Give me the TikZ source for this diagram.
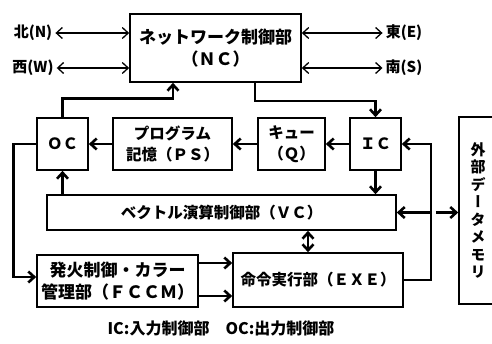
\documentclass[tikz,border=0pt]{standalone}
\usepackage{fontspec}
\newfontfamily\jp{Noto Sans CJK JP}
\newfontfamily\jpv{Noto Sans CJK JP}[RawFeature=+vert]
\usetikzlibrary{arrows.meta, positioning, calc}
\tikzset{
    box/.style={rectangle, draw, line width=1.6pt, inner sep=0pt, align=center, font=\jp\bfseries\fontsize{15.5}{21}\selectfont},
    widebox/.style={box, font=\jp\bfseries\fontsize{17}{22}\selectfont},
    tag/.style={inner sep=3pt, font=\jp\bfseries\fontsize{15}{18}\selectfont},
    arrow/.style={-{Straight Barb[length=6pt, width=11pt]}, line width=2.6pt},
    twoway/.style={{Straight Barb[length=6pt, width=11pt]}-{Straight Barb[length=6pt, width=11pt]}, line width=2.6pt},
    port/.style={{Straight Barb[length=6pt, width=11pt]}-{Straight Barb[length=6pt, width=11pt]}, line width=1.3pt},
    line/.style={line width=2.6pt}
}

\begin{document}
\begin{tikzpicture}[x=1pt, y=-1pt]
    \useasboundingbox (0,0) rectangle (492,343);
    % Network controller (top)
    \node[widebox, minimum width=171pt, minimum height=68pt] (nc) at (215.5,48) {ネットワーク制御部\\（ＮＣ）};
    \node[tag] (north) at (33,33) {北(N)};
    \node[tag] (west) at (33,68) {西(W)};
    \node[tag] (east) at (404,33) {東(E)};
    \node[tag] (south) at (404,68) {南(S)};
    \draw[port] (north.east) -- (north.east -| nc.west);
    \draw[port] (west.east) -- (west.east -| nc.west);
    \draw[port] (east.west -| nc.east) -- (east.west);
    \draw[port] (south.west -| nc.east) -- (south.west);

    % Middle row
    \node[box, minimum width=51pt, minimum height=52pt] (oc) at (62.5,144) {ＯＣ};
    \node[box, minimum width=119pt, minimum height=52pt] (ps) at (172.5,144) {プログラム\\記憶（ＰＳ）};
    \node[box, minimum width=67pt, minimum height=52pt] (q) at (291.5,144) {キュー\\（Ｑ）};
    \node[box, minimum width=51pt, minimum height=52pt] (ic) at (375.5,144) {ＩＣ};
    \node[box, minimum width=349pt, minimum height=35pt] (vc) at (221.5,212.5) {ベクトル演算制御部（ＶＣ）};

    % Bottom row
    \node[widebox, minimum width=161pt, minimum height=52pt] (fccm) at (117.5,281) {発火制御・カラー\\管理部（ＦＣＣＭ）};
    \node[box, minimum width=170pt, minimum height=54pt] (exe) at (318,280) {命令実行部（ＥＸＥ）};
    \node[box, minimum width=38pt, minimum height=187pt, font=\jpv\bfseries\fontsize{15}{17.5}\selectfont] (mem) at (478,210.5) {外\\部\\デ\\ー\\タ\\メ\\モ\\リ};

    \node[tag, font=\jp\bfseries\fontsize{16}{18}\selectfont] (note) at (221,328) {IC:入力制御部\hspace{1em}OC:出力制御部};

    % Connectors
    \draw[arrow] (oc.north) -- ++(0,-19) -| ($(nc.south)+(-42.5,0)$);
    \draw[arrow] ($(nc.south)+(39.5,0)$) -- ++(0,18) -| (ic.north);
    \draw[arrow] (ic.west) -- (q.east);
    \draw[arrow] (q.west) -- (ps.east);
    \draw[arrow] (ps.west) -- (oc.east);
    \draw[arrow] (ic.south) -- (ic.south |- vc.north);
    \draw[arrow] (vc.north -| oc.south) -- (oc.south);
    \draw[arrow] (oc.west) -- ++(-23,0) |- ($(fccm.west)+(0,-4)$);
    \draw[arrow] ($(fccm.east)+(0,-18)$) -- ($(fccm.east -| exe.west)+(0,-18)$);
    \draw[arrow] ($(fccm.east)+(0,15)$) -- ($(fccm.east -| exe.west)+(0,15)$);
    \draw[twoway] ($(exe.north)+(-10,0)$) -- ($(exe.north |- vc.south)+(-10,0)$);
    \draw[arrow] (exe.east) -- ++(27,0) coordinate (turn) |- (ic.east);
    \coordinate (tap) at (turn |- vc.east);
    \draw[arrow] (tap) -- (vc.east);
    \draw[arrow] ($(tap)+(5,0)$) -- (tap -| mem.west);
\end{tikzpicture}
\end{document}
